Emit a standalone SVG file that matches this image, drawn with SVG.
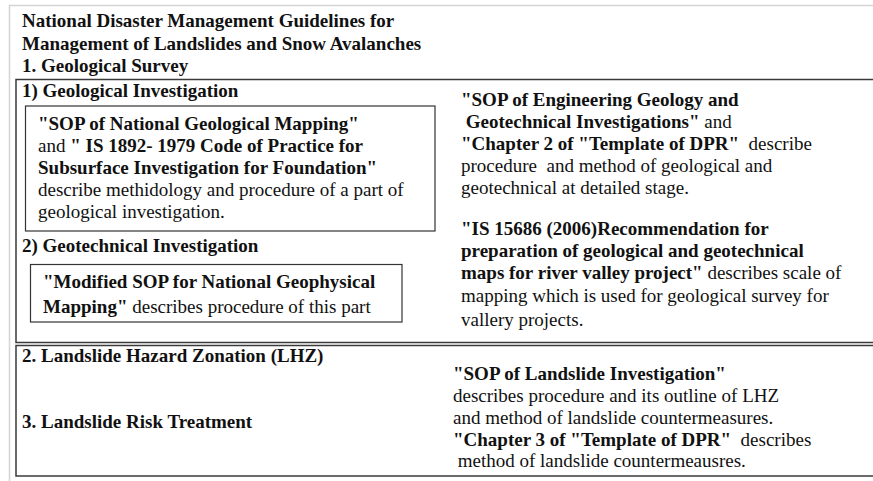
<svg xmlns="http://www.w3.org/2000/svg" width="873" height="481" viewBox="0 0 873 481">
<style>
text{font-family:"Liberation Serif","Times New Roman",serif;font-size:19px;fill:#111}
.b{font-weight:bold}
.frame{fill:none;stroke:#d4d4d4;stroke-width:1.5}
.sec{fill:none;stroke:#3a3a3a;stroke-width:1.5}
.box{fill:none;stroke:#333;stroke-width:1.2}
</style>
<rect width="873" height="481" fill="#fff"/>
<g id="frame"><path class="frame" d="M9.5 481 V5.5 H873"/></g>
<g id="title">
<text class="b" x="22" y="27">National Disaster Management Guidelines for</text>
<text class="b" x="22" y="50">Management of Landslides and Snow Avalanches</text>
<text class="b" x="22" y="72">1. Geological Survey</text>
</g>
<g id="section1">
<rect class="sec" x="16" y="79.5" width="870" height="263"/>
<text class="b" x="22" y="97">1) Geological Investigation</text>
<text class="b" x="22" y="252">2) Geotechnical Investigation</text>
</g>
<g id="box-geological">
<rect class="box" x="25.5" y="106" width="409.5" height="125"/>
<text x="38" y="130"><tspan class="b">"SOP of National Geological Mapping"</tspan></text>
<text x="38" y="152">and <tspan class="b">" IS 1892- 1979 Code of Practice for</tspan></text>
<text class="b" x="38" y="174">Subsurface Investigation for Foundation"</text>
<text x="38" y="196">describe methidology and procedure of a part of</text>
<text x="38" y="218">geological investigation.</text>
</g>
<g id="box-geotechnical">
<rect class="box" x="30.5" y="264.5" width="371.5" height="57.5"/>
<text x="43" y="288" class="b">"Modified SOP for National Geophysical</text>
<text x="43" y="313"><tspan class="b">Mapping"</tspan> describes procedure of this part</text>
</g>
<g id="notes-geological">
<text x="461" y="106" class="b">"SOP of Engineering Geology and</text>
<text x="461" y="128" xml:space="preserve"><tspan class="b"> Geotechnical Investigations"</tspan> and</text>
<text x="461" y="150" xml:space="preserve"><tspan class="b">"Chapter 2 of "Template of DPR"</tspan>  describe</text>
<text x="461" y="172" xml:space="preserve">procedure  and method of geological and</text>
<text x="461" y="194">geotechnical at detailed stage.</text>
<text x="461" y="235" class="b">"IS 15686 (2006)Recommendation for</text>
<text x="461" y="257" class="b">preparation of geological and geotechnical</text>
<text x="461" y="279"><tspan class="b">maps for river valley project"</tspan> describes scale of</text>
<text x="461" y="302">mapping which is used for geological survey for</text>
<text x="461" y="326">vallery projects.</text>
</g>
<g id="section2">
<rect class="sec" x="16" y="345.5" width="870" height="130.5"/>
<text class="b" x="22" y="362">2. Landslide Hazard Zonation (LHZ)</text>
<text class="b" x="22" y="428">3. Landslide Risk Treatment</text>
</g>
<g id="notes-landslide">
<text x="453" y="380" class="b">"SOP of Landslide Investigation"</text>
<text x="453" y="402">describes procedure and its outline of LHZ</text>
<text x="453" y="424">and method of landslide countermeasures.</text>
<text x="453" y="446" xml:space="preserve"><tspan class="b">"Chapter 3 of "Template of DPR"</tspan>  describes</text>
<text x="453" y="467" xml:space="preserve"> method of landslide countermeausres.</text>
</g>
<g id="connectors"></g>
</svg>
